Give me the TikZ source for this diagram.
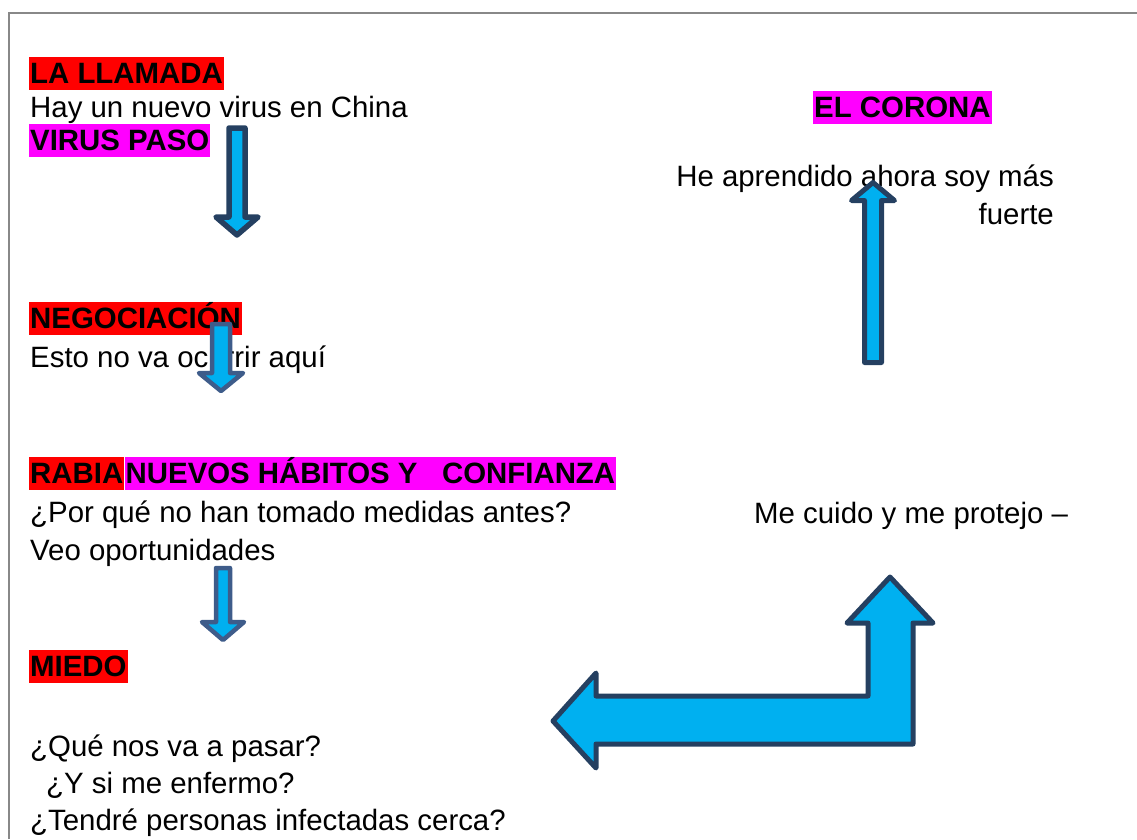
\documentclass[tikz,border=0pt]{standalone}
\usepackage{fontspec}
\setmainfont{Liberation Sans}
\definecolor{hlred}{RGB}{255, 0, 0}
\definecolor{hlpink}{RGB}{255, 0, 255}
\definecolor{arrowfill}{RGB}{0, 176, 240}
\definecolor{arrowline}{RGB}{37, 64, 97}
\definecolor{arrowlite}{RGB}{62, 92, 138}
\definecolor{pageline}{RGB}{136, 136, 136}
\tikzset{
  body/.style={anchor=base west, inner sep=0pt, font=\fontsize{29.4}{33}\selectfont},
  hilite/.style={body, font=\fontsize{29.4}{33}\selectfont\bfseries, inner xsep=1pt, text height=26pt, text depth=7pt},
  blockarrow/.style={fill=arrowfill, draw=arrowline, line width=5pt, line join=round}
}

\begin{document}
\begin{tikzpicture}[x=1pt, y=-1pt]
  \useasboundingbox (0,0) rectangle (1137,839);
  \draw[pageline, line width=1.5pt] (9,839) -- (9,13) -- (1137,13);

  % Left column
  \node[hilite, fill=hlred] (llamada) at (29,83) {LA LLAMADA};
  \node[body] (china) at (30,117) {Hay un nuevo virus en China};
  \node[hilite, fill=hlpink] (virus) at (29,150) {VIRUS PASO};

  \node[hilite, fill=hlred] (negociacion) at (29,328) {NEGOCIACIÓN};
  \node[body] (ocurrir) at (30,367) {Esto no va ocurrir aquí};

  \node[hilite, fill=hlred] (rabia) at (29,483) {RABIA};
  \node[hilite, fill=hlpink] (habitos) at (rabia.base east) {NUEVOS HÁBITOS Y\ \ \ CONFIANZA};
  \node[body] (antes) at (30,522) {¿Por qué no han tomado medidas antes?};
  \node[body] (veo) at (30,560) {Veo oportunidades};

  \node[hilite, fill=hlred] (miedo) at (29,676) {MIEDO};
  \node[body] (pasar) at (30,756) {¿Qué nos va a pasar?};
  \node[body] (enfermo) at (46,793) {¿Y si me enfermo?};
  \node[body] (cerca) at (30,830) {¿Tendré personas infectadas cerca?};

  % Right column
  \node[hilite, fill=hlpink] (corona) at (813,117) {EL CORONA};
  \node[body, anchor=base east] (aprendido) at (1054,186) {He aprendido ahora soy más};
  \node[body, anchor=base east] (fuerte) at (1054,224) {fuerte};
  \node[body] (cuido) at (754,523) {Me cuido y me protejo –};

  % Block arrows
  \draw[blockarrow, line width=5.5pt] (229,128) -- (245,128) -- (245,217) -- (258,217) -- (237,235) -- (216,217) -- (229,217) -- cycle;
  \draw[blockarrow, draw=arrowlite, line width=4.5pt] (212,324) -- (230,324) -- (230,373) -- (243,373) -- (221,391) -- (199,373) -- (212,373) -- cycle;
  \draw[blockarrow, draw=arrowlite, line width=4.5pt] (216,568) -- (230,568) -- (230,622) -- (244,622) -- (223,640) -- (202,622) -- (216,622) -- cycle;
  \draw[blockarrow] (864.5,362.5) -- (881.5,362.5) -- (881.5,200.5) -- (894.5,200.5) -- (873,182.5) -- (851.5,200.5) -- (864.5,200.5) -- cycle;
  \draw[blockarrow] (553,721) -- (596,673) -- (596,696) -- (868,696) -- (868,623) -- (847,623) -- (890,577) -- (933,623) -- (913,623) -- (913,744) -- (596,744) -- (596,768) -- cycle;
\end{tikzpicture}
\end{document}
